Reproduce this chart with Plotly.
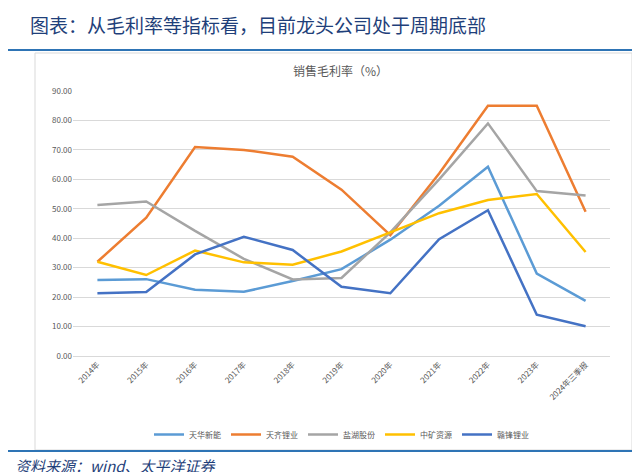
import plotly.graph_objects as go

years = ["2014年","2015年","2016年","2017年","2018年","2019年","2020年","2021年","2022年","2023年","2024年三季报"]
tianhua = [25.8, 26.1, 22.5, 21.8, 25.5, 29.5, 39.5, 51.0, 64.3, 28.0, 18.7]
tianqi = [32.0, 47.0, 71.0, 70.0, 67.7, 56.5, 41.0, 62.0, 85.0, 85.0, 49.0]
yanhu = [51.3, 52.5, 42.5, 33.0, 26.0, 26.5, 42.0, 60.0, 79.0, 56.0, 54.5]
zhongkuang = [32.0, 27.5, 35.8, 31.8, 31.0, 35.5, 42.0, 48.5, 53.0, 55.0, 35.3]
ganfeng = [21.3, 21.7, 34.5, 40.5, 36.0, 23.5, 21.3, 39.7, 49.5, 14.0, 10.1]
names = ["天华新能","天齐锂业","盐湖股份","中矿资源","赣锋锂业"]
colors = ["#5B9BD5","#ED7D31","#A5A5A5","#FFC000","#4472C4"]
ticks = [0,10,20,30,40,50,60,70,80,90]

font = "Noto Sans CJK SC"
H = 265.0
def py(pix):
    return (348 - pix) / H
def px(pix):
    return (pix - 65) / 537.0

fig = go.Figure()
for n, v, c in zip(names, [tianhua, tianqi, yanhu, zhongkuang, ganfeng], colors):
    fig.add_trace(go.Scatter(x=years, y=v, name=n, mode="lines", line=dict(color=c, width=2.5)))

fig.update_layout(
    width=640, height=472, paper_bgcolor="white", plot_bgcolor="white",
    margin=dict(l=65, r=38, t=83, b=124, autoexpand=False),
    font=dict(family=font, size=9, color="#595959"),
    xaxis=dict(tickangle=-45, showgrid=False, showline=True, linecolor="#D9D9D9", ticks="",
               tickfont=dict(size=8, color="#595959"), range=[-0.5, 10.5], automargin=False),
    yaxis=dict(range=[0, 90], tickvals=ticks, ticktext=[f"{t:.2f}" for t in ticks],
               gridcolor="#D9D9D9", zeroline=False, tickfont=dict(size=8, color="#595959"), automargin=False),
    legend=dict(orientation="h", x=0.5, xanchor="center", y=py(412), yanchor="top",
                font=dict(size=8, color="#595959")),
    shapes=[
        dict(type="line", xref="paper", yref="paper", x0=px(0), x1=px(640), y0=py(42), y1=py(42),
             line=dict(color="#2E74B5", width=2)),
        dict(type="rect", xref="paper", yref="paper", x0=px(27), x1=px(624), y0=py(45), y1=py(442),
             line=dict(color="#D9D9D9", width=1)),
        dict(type="line", xref="paper", yref="paper", x0=px(0), x1=px(640), y0=py(443), y1=py(443),
             line=dict(color="#2E74B5", width=2)),
    ],
    annotations=[
        dict(text="图表：从毛利率等指标看，目前龙头公司处于周期底部", xref="paper", yref="paper",
             x=px(20), y=py(16), yanchor="middle", xanchor="left", showarrow=False,
             font=dict(family=font, size=19, color="#1F3F7A")),
        dict(text="销售毛利率（%）", xref="paper", yref="paper", x=px(332), y=py(62), yanchor="middle",
             showarrow=False, font=dict(family=font, size=12, color="#595959")),
        dict(text="<i>资料来源：wind、太平洋证券</i>", xref="paper", yref="paper",
             x=px(5), y=py(457), xanchor="left", yanchor="middle", showarrow=False,
             font=dict(family=font, size=15, color="#1F3F7A")),
    ],
)
fig.write_html("out.html")
